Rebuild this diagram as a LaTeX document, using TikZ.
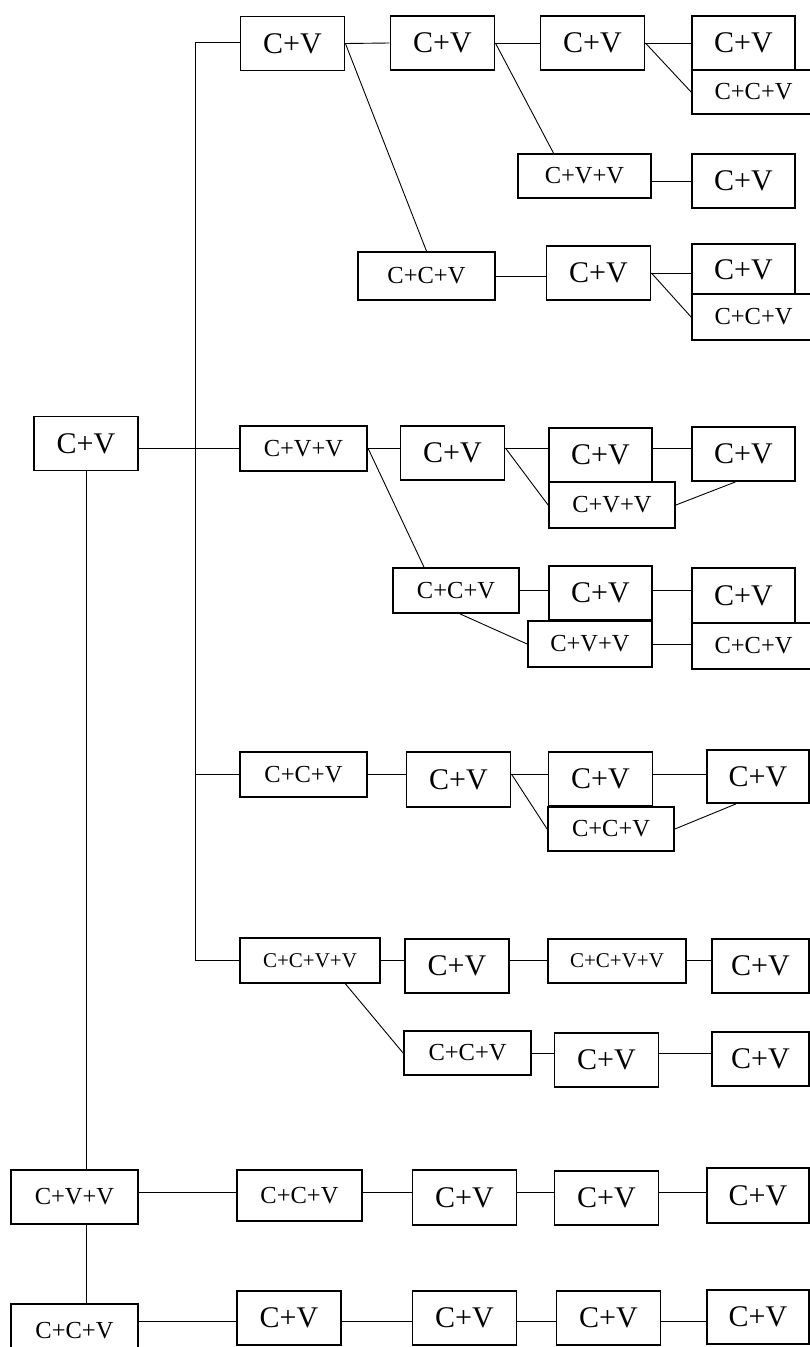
\documentclass[tikz,border=0pt]{standalone}
\usepackage{fontspec}
\setmainfont{Liberation Serif}

\begin{document}
\begin{tikzpicture}[
			x=1pt,y=-1pt,
			box/.style={
				draw,
				line width=1.8pt,
				fill=white,
				inner sep=0pt,
				minimum width=104pt,
				minimum height=54pt,
				align=center,
				font=\fontsize{30}{36}\selectfont
			},
			mid/.style={box,font=\fontsize{24.5}{29}\selectfont},
			sml/.style={box,font=\fontsize{21}{25}\selectfont},
			line width=0.9pt
			]
			
			\useasboundingbox (0,0) rectangle (810,1347);
			
			% root column
			\node[box] (r) at (86,443.5) {C+V};
			\node[mid,minimum width=127pt] (h1) at (74.5,1197) {C+V+V};
			\node[mid,minimum width=127pt] (h2) at (74.5,1331) {C+C+V};
			
			% first branch
			\node[box] (a1) at (292.5,43.5) {C+V};
			\node[box] (a2) at (442.5,43) {C+V};
			\node[box] (a3) at (592.5,43) {C+V};
			\node[box,minimum width=103pt] (a4) at (743.5,43) {C+V};
			\node[mid,minimum width=123pt,minimum height=44pt] (a5) at (753.5,92) {C+C+V};
			\node[mid,minimum width=133pt,minimum height=44pt] (b1) at (584.5,176) {C+V+V};
			\node[box,minimum width=103pt] (b2) at (743.5,181) {C+V};
			\node[mid,minimum width=137pt,minimum height=48pt] (c1) at (426.5,276) {C+C+V};
			\node[box] (c2) at (598.5,273) {C+V};
			\node[box,minimum width=103pt,minimum height=51pt] (c3) at (743.5,269.5) {C+V};
			\node[mid,minimum width=123pt,minimum height=46pt] (c4) at (753.5,317) {C+C+V};
			
			% second branch
			\node[mid,minimum width=127pt,minimum height=45pt] (d1) at (303.5,448.5) {C+V+V};
			\node[box] (d2) at (452.5,453) {C+V};
			\node[box,minimum width=103pt] (d3) at (600.5,455) {C+V};
			\node[box,minimum width=103pt] (d4) at (743.5,454) {C+V};
			\node[mid,minimum width=126pt,minimum height=46pt] (d5) at (612,505) {C+V+V};
			\node[mid,minimum width=126pt,minimum height=45pt] (e1) at (456,590.5) {C+C+V};
			\node[box,minimum width=103pt] (e2) at (600.5,593) {C+V};
			\node[box,minimum width=103pt,minimum height=55pt] (e3) at (743.5,595.5) {C+V};
			\node[mid,minimum width=124pt,minimum height=46pt] (e4) at (590,644) {C+V+V};
			\node[mid,minimum width=123pt,minimum height=46pt] (e5) at (753.5,646) {C+C+V};
			
			% third branch
			\node[mid,minimum width=127pt,minimum height=45pt] (f1) at (303.5,774.5) {C+C+V};
			\node[box,minimum height=55pt] (f2) at (458.5,779.5) {C+V};
			\node[box] (f3) at (600.5,779) {C+V};
			\node[box,minimum width=102pt,minimum height=53pt] (f4) at (758,776.5) {C+V};
			\node[mid,minimum width=126pt,minimum height=44pt] (f5) at (611,829) {C+C+V};
			
			% fourth branch
			\node[sml,minimum width=140pt,minimum height=45pt] (g1) at (310,960.5) {C+C+V+V};
			\node[box] (g2) at (457,966) {C+V};
			\node[sml,minimum width=138pt,minimum height=44pt] (g3) at (617,961) {C+C+V+V};
			\node[box,minimum width=97pt] (g4) at (760.5,966) {C+V};
			\node[mid,minimum width=127pt,minimum height=44pt] (g5) at (467.5,1053) {C+C+V};
			\node[box] (g6) at (606.5,1060) {C+V};
			\node[box,minimum width=97pt] (g7) at (760.5,1059) {C+V};
			
			% lower rows
			\node[mid,minimum width=125pt,minimum height=51pt] (h1b) at (299.5,1195.5) {C+C+V};
			\node[box,minimum height=55pt] (h1c) at (464.5,1197.5) {C+V};
			\node[box] (h1d) at (606.5,1198) {C+V};
			\node[box,minimum width=102pt,minimum height=55pt] (h1e) at (758,1195.5) {C+V};
			\node[box] (h2b) at (289,1318) {C+V};
			\node[box] (h2c) at (464.5,1318) {C+V};
			\node[box] (h2d) at (608.5,1318) {C+V};
			\node[box,minimum width=102pt] (h2e) at (758,1317) {C+V};
			
			% trunk and rows
			\coordinate (tA) at (195,42);
			\coordinate (tF) at (195,774);
			\coordinate (tG) at (195,960);
			\coordinate (yD) at (0,448);
			\coordinate (yE) at (0,590);
			\coordinate (yH) at (0,1192);
			\coordinate (yK) at (0,1321);
			
			\draw (tA) -- (tG);
			\draw (tA) -- (a1.west |- tA);
			\draw (tF) -- (f1.west |- tF);
			\draw (tG) -- (g1.west |- tG);
			\draw (r.east |- yD) -- (d1.west |- yD);
			\draw (r.south) -- (r.south |- h1.north);
			\draw (r.south |- h1.south) -- (r.south |- h2.north);
			
			\draw (a1.east) -- (a2.west);
			\draw (a2.east) -- (a3.west);
			\draw (a3.east) -- (a4.west);
			\draw (a3.east) -- (a5.west);
			\draw (a2.east) -- ([xshift=-31pt]b1.north);
			\draw (b1.east |- b2.west) -- (b2.west);
			\draw (a1.east) -- (c1.north);
			\draw (c1.east) -- (c1.east -| c2.west);
			\draw (c2.east) -- (c2.east -| c3.west);
			\draw (c2.east) -- (c4.west);
			
			\draw (d1.east |- yD) -- (d2.west |- yD);
			\draw (d2.east |- yD) -- (d3.west |- yD);
			\draw (d3.east |- yD) -- (d4.west |- yD);
			\draw (d2.east |- yD) -- (d5.west);
			\draw (d5.east) -- ([xshift=-8pt]d4.south);
			\draw (d1.east |- yD) -- ([xshift=-32pt]e1.north);
			\draw (e1.east |- yE) -- (e2.west |- yE);
			\draw (e2.east |- yE) -- (e3.west |- yE);
			\draw ([xshift=4pt]e1.south) -- (e4.west);
			\draw (e4.east) -- (e4.east -| e5.west);
			
			\draw (f1.east |- tF) -- (f2.west |- tF);
			\draw (f2.east |- tF) -- (f3.west |- tF);
			\draw (f3.east |- tF) -- (f4.west |- tF);
			\draw (f2.east |- tF) -- (f5.west);
			\draw (f5.east) -- ([xshift=-22pt]f4.south);
			
			\draw (g1.east |- tG) -- (g2.west |- tG);
			\draw (g2.east |- tG) -- (g3.west |- tG);
			\draw (g3.east |- tG) -- (g4.west |- tG);
			\draw ([xshift=35.5pt]g1.south) -- (g5.west);
			\draw (g5.east) -- (g5.east -| g6.west);
			\draw (g6.east |- g5.east) -- (g7.west |- g5.east);
			
			\draw (h1.east |- yH) -- (h1b.west |- yH);
			\draw (h1b.east |- yH) -- (h1c.west |- yH);
			\draw (h1c.east |- yH) -- (h1d.west |- yH);
			\draw (h1d.east |- yH) -- (h1e.west |- yH);
			\draw (h2.east |- yK) -- (h2b.west |- yK);
			\draw (h2b.east |- yK) -- (h2c.west |- yK);
			\draw (h2c.east |- yK) -- (h2d.west |- yK);
			\draw (h2d.east |- yK) -- (h2e.west |- yK);
			
		\end{tikzpicture}
\end{document}
